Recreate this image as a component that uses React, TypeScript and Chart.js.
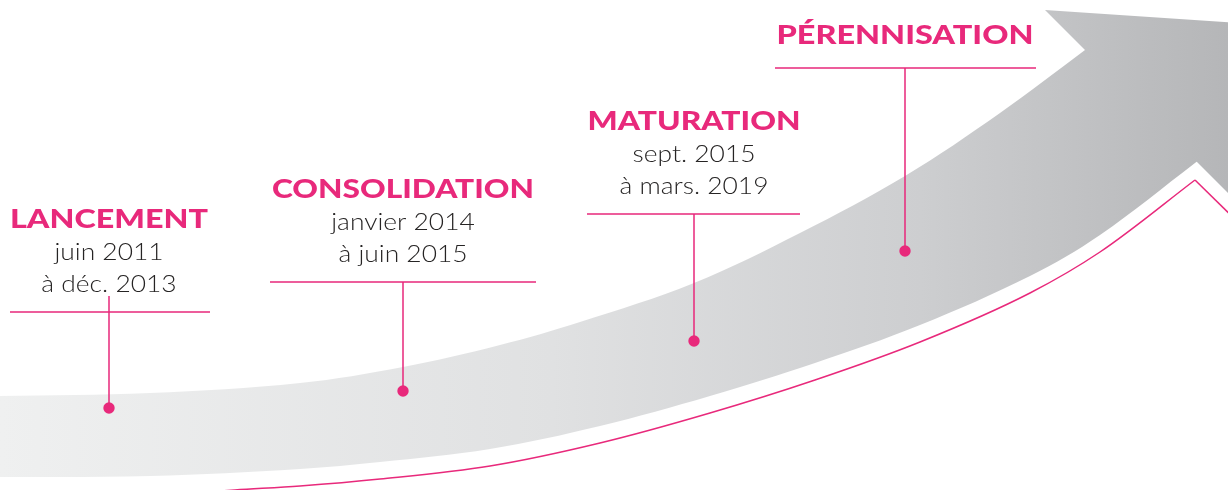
import { useEffect, useRef } from 'react';
import { Chart, registerables } from 'chart.js';

Chart.register(...registerables);

// ---- Data (diagram coordinates: x 0..1228, y 0..490 top-down) ----
const phaseNames = ['LANCEMENT', 'CONSOLIDATION', 'MATURATION', 'PÉRENNISATION'];
const periodFrom = ['juin 2011', 'janvier 2014', 'sept. 2015', ''];
const periodTo = ['à déc. 2013', 'à juin 2015', 'à mars. 2019', ''];
const markerX = [109, 403, 694, 905];
const markerY = [408, 391, 341, 251];
const ruleY = [312, 282, 214, 68];
const ruleStart = [10, 270, 587, 775];
const ruleEnd = [210, 536, 800, 1036];
const stemTop = [296, 282, 214, 68];

// Arrow shaft: upper edge (left → right), then the part hidden under the head, then lower edge (right → left)
const shaftTopX = [-40, 0, 150, 300, 403, 500, 580, 694, 800, 905, 1000, 1085, 1120, 1240];
const shaftTopY = [397, 396, 393, 383, 367, 345, 322, 283, 233, 176, 113, 50, 24, 40];
const shaftBottomX = [1225, 1195, 1100, 1030, 920, 815, 710, 600, 490, 380, 300, 150, 0, -40];
const shaftBottomY = [140, 163, 235, 276, 325, 363, 396, 426, 449, 462, 469, 476, 477, 477];

// Arrow head triangle
const headX = [1045, 1330, 1330];
const headY = [10, 29, 295];

// Pink underline curve and its right barb
const ribbonX = [150, 235, 300, 380, 490, 600, 710, 815, 920, 1030, 1100, 1195];
const ribbonY = [496, 490, 486, 479, 466, 443, 413, 380, 342, 293, 252, 180];
const barbX = [1195, 1245];
const barbY = [180, 229];

// ---- Styles ----
const PINK = '#e8297b';
const TEXT = '#262424';
const TITLE_WIDTH = [198, 262, 213, 257];
const SUB_STRETCH = 1.1;
const W = 1228;
const H = 490;

const pts = (xs: number[], ys: number[]) => xs.map((x, i) => ({ x, y: ys[i] }));

function grayGradient(context: any) {
  const chart = context.chart;
  if (!chart.chartArea) return '#dddddd';
  const xs = chart.scales.x;
  const g = chart.ctx.createLinearGradient(xs.getPixelForValue(0), 0, xs.getPixelForValue(W), 0);
  g.addColorStop(0, '#eff0f0');
  g.addColorStop(0.45, '#e0e1e2');
  g.addColorStop(0.75, '#cdced0');
  g.addColorStop(1, '#b5b6b8');
  return g;
}

const labelsPlugin = {
  id: 'milestoneLabels',
  afterDatasetsDraw(chart: any) {
    const { ctx, scales } = chart;
    const xs = scales.x;
    const ys = scales.y;
    ctx.save();
    ctx.textAlign = 'center';
    ctx.textBaseline = 'alphabetic';
    phaseNames.forEach((name, i) => {
      const cx = xs.getPixelForValue(markerX[i]);
      const base = ys.getPixelForValue(ruleY[i]);
      const lines = [periodFrom[i], periodTo[i]].filter((s) => s);
      ctx.font = '300 24px Lato, "Open Sans", sans-serif';
      ctx.fillStyle = TEXT;
      lines.forEach((s, k) => {
        const yy = base - 20 - (lines.length - 1 - k) * 32;
        ctx.save();
        ctx.translate(cx, yy);
        ctx.scale(SUB_STRETCH, 1);
        ctx.fillText(s, 0, 0);
        ctx.restore();
      });
      const ty = base - (lines.length ? 20 + lines.length * 32 : 24);
      ctx.font = '900 27px Lato, "Open Sans", sans-serif';
      ctx.fillStyle = PINK;
      const w = ctx.measureText(name).width;
      ctx.save();
      ctx.translate(cx, ty);
      ctx.scale(TITLE_WIDTH[i] / w, 1);
      ctx.fillText(name, 0, 0);
      ctx.restore();
    });
    ctx.restore();
  },
};

export default function App() {
  const ref = useRef<HTMLCanvasElement>(null);
  useEffect(() => {
    document.body.style.margin = '0';
    const connectors: any[] = [];
    phaseNames.forEach((_, i) => {
      connectors.push({ x: ruleStart[i], y: ruleY[i] }, { x: ruleEnd[i], y: ruleY[i] }, { x: ruleEnd[i], y: null });
      connectors.push({ x: markerX[i], y: stemTop[i] }, { x: markerX[i], y: markerY[i] }, { x: markerX[i], y: null });
    });
    const chart = new Chart(ref.current!, {
      type: 'line',
      data: {
        datasets: [
          {
            label: 'markers',
            data: pts(markerX, markerY),
            showLine: false,
            pointRadius: 5.7,
            pointBackgroundColor: PINK,
            pointBorderWidth: 0,
            borderColor: 'transparent',
          },
          {
            label: 'connectors',
            data: connectors,
            borderColor: PINK,
            borderWidth: 1.5,
            pointRadius: 0,
            spanGaps: false,
            tension: 0,
            fill: false,
          },
          {
            label: 'barb',
            data: pts(barbX, barbY),
            borderColor: PINK,
            borderWidth: 1.5,
            pointRadius: 0,
            tension: 0,
            fill: false,
          },
          {
            label: 'ribbon',
            data: pts(ribbonX, ribbonY),
            borderColor: PINK,
            borderWidth: 1.5,
            pointRadius: 0,
            cubicInterpolationMode: 'monotone',
            fill: false,
          },
          {
            label: 'head',
            data: pts(headX, headY),
            borderColor: 'transparent',
            borderWidth: 0,
            pointRadius: 0,
            tension: 0,
            fill: 'shape',
            backgroundColor: grayGradient,
          },
          {
            label: 'shaft',
            data: [...pts(shaftTopX, shaftTopY), ...pts(shaftBottomX, shaftBottomY)],
            borderColor: 'transparent',
            borderWidth: 0,
            pointRadius: 0,
            tension: 0.35,
            fill: 'shape',
            backgroundColor: grayGradient,
          },
        ],
      },
      options: {
        responsive: true,
        maintainAspectRatio: false,
        animation: false,
        events: [],
        layout: { padding: 0, autoPadding: false },
        elements: { line: { capBezierPoints: false } },
        plugins: { legend: { display: false }, tooltip: { enabled: false } },
        scales: {
          x: { type: 'linear', min: 0, max: W, display: false },
          y: { type: 'linear', min: 0, max: H, reverse: true, display: false },
        },
      },
      plugins: [labelsPlugin],
    });
    return () => chart.destroy();
  }, []);
  return (
    <div style={{ width: W, height: H, position: 'relative', background: '#ffffff' }}>
      <canvas ref={ref} />
    </div>
  );
}
